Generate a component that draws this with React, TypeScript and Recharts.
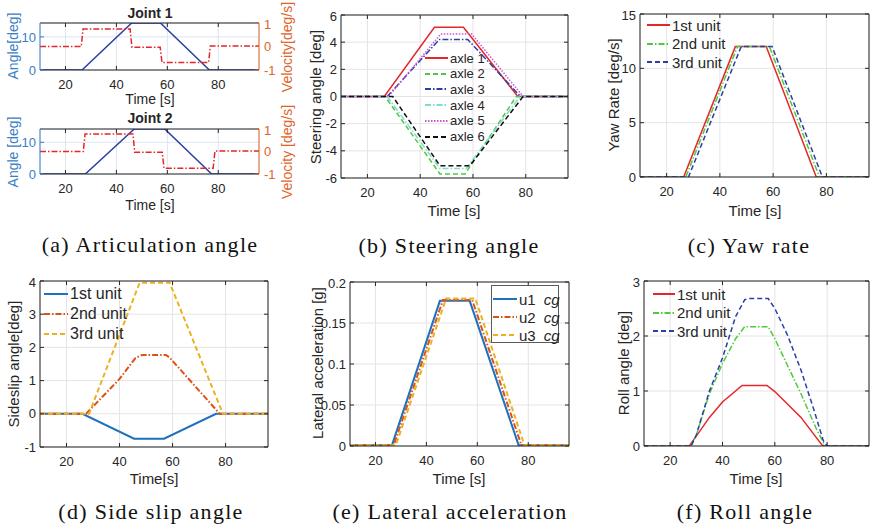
import React from 'react';
import { LineChart, Line, XAxis, YAxis, CartesianGrid } from 'recharts';

const timeDomain = [10, 96];
const timeTicks = [20, 40, 60, 80];

// (a) articulation angle, joint 1 and joint 2
const joint1AngleT = [10, 26.5, 46, 57.3, 76.5, 96];
const joint1AngleV = [0, 0, 14.2, 14.2, 0, 0];
const joint1VelT = [10, 26.2, 26.9, 45.4, 46.1, 57.2, 57.9, 76.2, 76.9, 96];
const joint1VelV = [0, 0, 0.74, 0.74, -0.03, -0.03, -0.68, -0.68, 0.02, 0.02];
const joint2AngleT = [10, 27.8, 47, 59, 77.4, 96];
const joint2AngleV = [0, 0, 14.2, 14.2, 0, 0];
const joint2VelT = [10, 27, 27.7, 46.5, 47.2, 58, 58.7, 78, 78.7, 96];
const joint2VelV = [0, 0, 0.78, 0.78, -0.03, -0.03, -0.74, -0.74, 0.02, 0.02];

// (b) steering angle per axle
const axle1T = [10, 26.4, 45.4, 56.4, 77, 96];
const axle1V = [0, 0, 5.1, 5.1, 0, 0];
const axle2T = [10, 26.7, 47.5, 57, 76.4, 96];
const axle2V = [0, 0, -5.7, -5.7, 0, 0];
const axle3T = [10, 27.5, 47.3, 58, 78, 96];
const axle3V = [0, 0, 4.2, 4.2, 0, 0];
const axle4T = [10, 27.5, 47.5, 57.5, 77.8, 96];
const axle4V = [0, 0, -5.3, -5.3, 0, 0];
const axle5T = [10, 28, 47.8, 59.5, 79, 96];
const axle5V = [0, 0, 4.6, 4.6, 0, 0];
const axle6T = [10, 29.6, 47.5, 58.8, 79, 96];
const axle6V = [0, 0, -5.1, -5.1, 0, 0];

// (c) yaw rate
const yaw1T = [10, 26.4, 45.8, 57.4, 76.2, 96];
const yaw2T = [10, 27.2, 46.6, 58.6, 77.4, 96];
const yaw3T = [10, 28.2, 48, 59.6, 78.5, 96];
const yawV = [0, 0, 12, 12, 0, 0];

// (d) side slip angle
const slip1T = [10, 26, 45.5, 56.8, 76.4, 96];
const slip1V = [0, 0, -0.75, -0.75, 0, 0];
const slip2T = [10, 27.4, 40, 46, 48.5, 57.5, 58.8, 77.8, 96];
const slip2V = [0, 0, 1.05, 1.68, 1.77, 1.77, 1.7, 0, 0];
const slip3T = [10, 28.5, 47.6, 58.9, 79, 96];
const slip3V = [0, 0, 3.95, 3.95, 0, 0];

// (e) lateral acceleration
const acc1T = [10, 26.5, 45.3, 57, 76.2, 96];
const acc1V = [0.001, 0.001, 0.177, 0.177, 0.001, 0.001];
const acc2T = [10, 27.2, 46.5, 58, 77.3, 96];
const acc2V = [0.001, 0.001, 0.178, 0.178, 0.001, 0.001];
const acc3T = [10, 28, 47.8, 59.2, 78.5, 96];
const acc3V = [0.001, 0.001, 0.18, 0.18, 0.001, 0.001];

// (f) roll angle
const roll1T = [10, 27.3, 30, 35, 40, 47.5, 57, 60, 70, 78, 79, 96];
const roll1V = [0, 0, 0.18, 0.52, 0.8, 1.1, 1.1, 0.99, 0.52, 0.02, 0, 0];
const roll2T = [10, 28, 30, 35, 40, 45, 48.5, 57.5, 60, 70, 76, 79, 80, 96];
const roll2V = [0, 0, 0.2, 0.95, 1.5, 1.95, 2.17, 2.17, 1.95, 0.95, 0.3, 0.02, 0, 0];
const roll3T = [10, 28, 30, 35, 40, 45, 48.5, 50, 57.5, 60, 65, 70, 75, 78.5, 80, 96];
const roll3V = [0, 0, 0.2, 1.0, 1.6, 2.35, 2.66, 2.68, 2.68, 2.5, 2.0, 1.38, 0.65, 0.1, 0, 0];

const RED = '#e5262a';
const GREEN = '#4fca3e';
const BLUE = '#2b3fa6';
const MBLUE = '#1f70bd';
const MORANGE = '#d95319';
const MYELLOW = '#edb120';
const SOLID = undefined;
const DASH = '5 3';
const DASHDOT = '6 2 1.5 2';
const DOT = '1.5 1.5';

type Series = { name: string; t: number[]; v: number[]; color: string; dash?: string; axis?: string };
type Rect = { x: number; y: number; w: number; h: number };

const pts = (t: number[], v: number[]) => t.map((x, i) => ({ t: x, v: v[i] }));

const MT = 6;
const TH = 1;
const XH = 30;
const YW = 40;
const INK = '#262626';
const SANS = '"Liberation Sans", Arial, sans-serif';
const noTick = () => <g />;

type PlotProps = {
  rect: Rect;
  yDomain: number[];
  yTicks: number[];
  series: Series[];
  grid?: string;
  leftColor?: string;
  right?: { domain: number[]; ticks: number[]; color: string };
  fs?: number;
  lw?: number;
};

function Plot({ rect, yDomain, yTicks, series, grid = '#e4e4e4', leftColor = INK, right, fs = 13, lw = 1.5 }: PlotProps) {
  const rw = right ? 30 : 1;
  return (
    <div style={{ position: 'absolute', left: rect.x - YW, top: rect.y - MT - TH }}>
      <LineChart
        width={YW + rect.w + rw}
        height={MT + TH + rect.h + XH}
        margin={{ top: MT, right: 0, bottom: 0, left: 0 }}
        style={{ fontFamily: SANS }}
      >
        <CartesianGrid stroke={grid} xAxisId="b" yAxisId="l" />
        <XAxis xAxisId="b" type="number" dataKey="t" domain={timeDomain} ticks={timeTicks} allowDataOverflow
          height={XH} tickSize={-4} tickMargin={14} stroke={INK} tick={{ fill: INK, fontSize: fs }} />
        <XAxis xAxisId="top" orientation="top" type="number" dataKey="t" domain={timeDomain} ticks={timeTicks}
          allowDataOverflow height={TH} tickSize={-4} stroke={INK} tick={noTick} />
        <YAxis yAxisId="l" type="number" domain={yDomain} ticks={yTicks} allowDataOverflow width={YW}
          tickSize={-4} tickMargin={8} stroke={leftColor} tick={{ fill: leftColor, fontSize: fs }} />
        {right ? (
          <YAxis yAxisId="r" orientation="right" type="number" domain={right.domain} ticks={right.ticks}
            allowDataOverflow width={rw} tickSize={-4} tickMargin={9} stroke={right.color}
            tick={{ fill: right.color, fontSize: fs }} />
        ) : (
          <YAxis yAxisId="r" orientation="right" type="number" domain={yDomain} ticks={yTicks}
            allowDataOverflow width={rw} tickSize={-4} stroke={INK} tick={noTick} />
        )}
        {series.map((s) => (
          <Line key={s.name} name={s.name} data={pts(s.t, s.v)} dataKey="v" xAxisId="b" yAxisId={s.axis || 'l'}
            type="linear" stroke={s.color} strokeWidth={lw} strokeDasharray={s.dash} dot={false}
            activeDot={false} isAnimationActive={false} />
        ))}
      </LineChart>
    </div>
  );
}

function Label({ x, y, text, size = 15, color = INK, rotate = false, bold = false }:
  { x: number; y: number; text: string; size?: number; color?: string; rotate?: boolean; bold?: boolean }) {
  return (
    <div style={{
      position: 'absolute', left: x, top: y, whiteSpace: 'nowrap', fontFamily: SANS, fontSize: size, color,
      fontWeight: bold ? 'bold' : 'normal', lineHeight: 1,
      transform: `translate(-50%, -50%)${rotate ? ' rotate(-90deg)' : ''}`,
    }}>{text}</div>
  );
}

function Caption({ x, y, text }: { x: number; y: number; text: string }) {
  return (
    <div style={{
      position: 'absolute', left: x, top: y, transform: 'translate(-50%, -50%)', whiteSpace: 'nowrap',
      fontFamily: '"Liberation Serif", "DejaVu Serif", serif', fontSize: 22, letterSpacing: 1.3, color: '#111', lineHeight: 1,
    }}>{text}</div>
  );
}

type Item = { label: string; color: string; dash?: string; suffix?: string };

function Key({ x, y, step, items, size = 15, sample = 23, box }:
  { x: number; y: number; step: number; items: Item[]; size?: number; sample?: number; box?: Rect }) {
  return (
    <>
      {box && (
        <div style={{ position: 'absolute', left: box.x, top: box.y, width: box.w, height: box.h,
          border: '1px solid #5a5a5a', background: '#fff', boxSizing: 'border-box' }} />
      )}
      {items.map((it, i) => (
        <div key={it.label} style={{ position: 'absolute', left: x, top: y + i * step - 9, height: 18,
          display: 'flex', alignItems: 'center', fontFamily: SANS, fontSize: size, color: INK, whiteSpace: 'nowrap' }}>
          <svg width={sample} height={18} style={{ marginRight: 2 }}>
            <line x1={0} y1={9} x2={sample} y2={9} stroke={it.color} strokeWidth={2} strokeDasharray={it.dash} />
          </svg>
          <span>{it.label}</span>
          {it.suffix && <span style={{ fontStyle: 'italic', marginLeft: 8 }}>{it.suffix}</span>}
        </div>
      ))}
    </>
  );
}

const unitsRGB: Item[] = [
  { label: '1st unit', color: RED, dash: SOLID },
  { label: '2nd unit', color: GREEN, dash: DASHDOT },
  { label: '3rd unit', color: BLUE, dash: DASH },
];

export default function App() {
  const aLeft = '#3a7ec3';
  const aRight = '#e0642a';
  const aGrid = '#dbe6ef';
  return (
    <div style={{ position: 'absolute', left: 0, top: 0, width: 871, height: 529, background: '#fff', overflow: 'hidden' }}>
      {/* (a) */}
      <Plot rect={{ x: 40, y: 23, w: 219, h: 47 }} yDomain={[0, 14.2]} yTicks={[0, 5, 10]} leftColor={aLeft} grid={aGrid}
        right={{ domain: [-1, 1], ticks: [-1, 0, 1], color: aRight }}
        series={[
          { name: 'ang1', t: joint1AngleT, v: joint1AngleV, color: BLUE },
          { name: 'vel1', t: joint1VelT, v: joint1VelV, color: RED, dash: DASHDOT, axis: 'r' },
        ]} />
      <Label x={150} y={13} text="Joint 1" size={14} bold />
      <Label x={13} y={46} text="Angle[deg]" size={14} color={aLeft} rotate />
      <Label x={287} y={47} text="Velocity[deg/s]" size={14} color={aRight} rotate />
      <Label x={150} y={99} text="Time [s]" size={14} />

      <Plot rect={{ x: 40, y: 129, w: 219, h: 45 }} yDomain={[0, 14.2]} yTicks={[0, 5, 10]} leftColor={aLeft} grid={aGrid}
        right={{ domain: [-1, 1], ticks: [-1, 0, 1], color: aRight }}
        series={[
          { name: 'ang2', t: joint2AngleT, v: joint2AngleV, color: BLUE },
          { name: 'vel2', t: joint2VelT, v: joint2VelV, color: RED, dash: DASHDOT, axis: 'r' },
        ]} />
      <Label x={150} y={118} text="Joint 2" size={14} bold />
      <Label x={13} y={152} text="Angle [deg]" size={14} color={aLeft} rotate />
      <Label x={287} y={152} text="Velocity [deg/s]" size={14} color={aRight} rotate />
      <Label x={150} y={205} text="Time [s]" size={14} />
      <Caption x={150} y={245} text="(a) Articulation angle" />

      {/* (b) */}
      <Plot rect={{ x: 341, y: 15, w: 227, h: 163 }} yDomain={[-6, 6]} yTicks={[-6, -4, -2, 0, 2, 4, 6]}
        series={[
          { name: 'axle 1', t: axle1T, v: axle1V, color: RED },
          { name: 'axle 2', t: axle2T, v: axle2V, color: GREEN, dash: DASH },
          { name: 'axle 3', t: axle3T, v: axle3V, color: BLUE, dash: DASHDOT },
          { name: 'axle 4', t: axle4T, v: axle4V, color: '#7fdccf', dash: DASHDOT },
          { name: 'axle 5', t: axle5T, v: axle5V, color: '#cc55d0', dash: DOT },
          { name: 'axle 6', t: axle6T, v: axle6V, color: '#111111', dash: DASH },
        ]} />
      <Key x={425} y={58} step={15.7} size={13} items={[
        { label: 'axle 1', color: RED },
        { label: 'axle 2', color: GREEN, dash: DASH },
        { label: 'axle 3', color: BLUE, dash: DASHDOT },
        { label: 'axle 4', color: '#7fdccf', dash: DASHDOT },
        { label: 'axle 5', color: '#cc55d0', dash: DOT },
        { label: 'axle 6', color: '#111111', dash: DASH },
      ]} />
      <Label x={315} y={97} text="Steering angle [deg]" rotate />
      <Label x={454} y={210} text="Time [s]" />
      <Caption x={449} y={246} text="(b) Steering angle" />

      {/* (c) */}
      <Plot rect={{ x: 640, y: 14, w: 229, h: 163 }} yDomain={[0, 15]} yTicks={[0, 5, 10, 15]}
        series={[
          { name: '1st unit', t: yaw1T, v: yawV, color: RED },
          { name: '2nd unit', t: yaw2T, v: yawV, color: GREEN, dash: DASHDOT },
          { name: '3rd unit', t: yaw3T, v: yawV, color: BLUE, dash: DASH },
        ]} />
      <Key x={647} y={25} step={18.5} items={unitsRGB} />
      <Label x={613} y={95} text="Yaw Rate [deg/s]" rotate />
      <Label x={755} y={210} text="Time [s]" />
      <Caption x={749} y={246} text="(c) Yaw rate" />

      {/* (d) */}
      <Plot rect={{ x: 40, y: 281, w: 228, h: 166 }} yDomain={[-1, 4]} yTicks={[-1, 0, 1, 2, 3, 4]} lw={2}
        series={[
          { name: '1st unit', t: slip1T, v: slip1V, color: MBLUE },
          { name: '2nd unit', t: slip2T, v: slip2V, color: MORANGE, dash: DASHDOT },
          { name: '3rd unit', t: slip3T, v: slip3V, color: MYELLOW, dash: DASH },
        ]} />
      <Key x={44} y={294} step={20} size={16} sample={24} items={[
        { label: '1st unit', color: MBLUE },
        { label: '2nd unit', color: MORANGE, dash: DASHDOT },
        { label: '3rd unit', color: MYELLOW, dash: DASH },
      ]} />
      <Label x={13} y={364} text="Sideslip angle[deg]" rotate />
      <Label x={154} y={478} text="Time[s]" />
      <Caption x={151} y={512} text="(d) Side slip angle" />

      {/* (e) */}
      <Plot rect={{ x: 350, y: 282, w: 219, h: 164 }} yDomain={[0, 0.2]} yTicks={[0, 0.05, 0.1, 0.15, 0.2]} lw={2}
        series={[
          { name: 'u1', t: acc1T, v: acc1V, color: MBLUE },
          { name: 'u2', t: acc2T, v: acc2V, color: MORANGE, dash: DASHDOT },
          { name: 'u3', t: acc3T, v: acc3V, color: MYELLOW, dash: DASH },
        ]} />
      <Key x={493} y={299} step={18} sample={24} box={{ x: 491, y: 285, w: 68, h: 58 }} items={[
        { label: 'u1', color: MBLUE, suffix: 'cg' },
        { label: 'u2', color: MORANGE, dash: DASHDOT, suffix: 'cg' },
        { label: 'u3', color: MYELLOW, dash: DASH, suffix: 'cg' },
      ]} />
      <Label x={317} y={363} text="Lateral acceleration [g]" rotate />
      <Label x={459} y={478} text="Time [s]" />
      <Caption x={450} y={512} text="(e) Lateral acceleration" />

      {/* (f) */}
      <Plot rect={{ x: 644, y: 281, w: 225, h: 165 }} yDomain={[0, 3]} yTicks={[0, 1, 2, 3]}
        series={[
          { name: '1st unit', t: roll1T, v: roll1V, color: RED },
          { name: '2nd unit', t: roll2T, v: roll2V, color: GREEN, dash: DASHDOT },
          { name: '3rd unit', t: roll3T, v: roll3V, color: BLUE, dash: DASH },
        ]} />
      <Key x={653} y={294} step={18.5} sample={22} items={unitsRGB} />
      <Label x={623} y={363} text="Roll angle [deg]" rotate />
      <Label x={756} y={478} text="Time [s]" />
      <Caption x={745} y={512} text="(f) Roll angle" />
    </div>
  );
}
